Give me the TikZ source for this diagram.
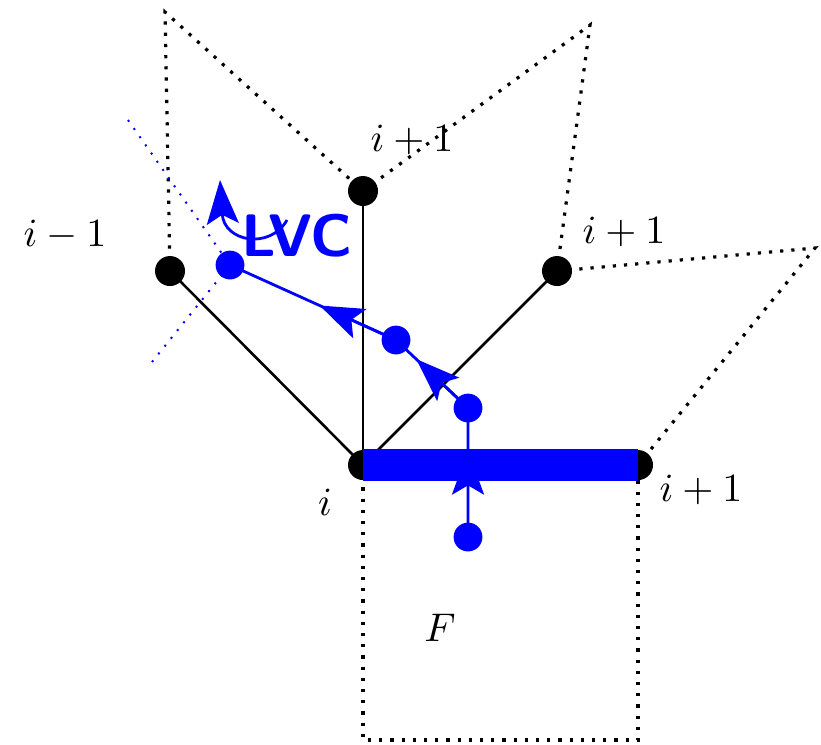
\documentclass[tikz,border=0pt]{standalone}
\usetikzlibrary{arrows.meta}
\begin{document}
\begin{tikzpicture}[x=0.25pt,y=-0.25pt,
  bdot/.style={circle,fill=black,inner sep=0pt,minimum size=7.5pt},
  udot/.style={circle,fill=blue,inner sep=0pt,minimum size=7.2pt},
  edge/.style={line width=0.65pt},
  dots/.style={dotted,line width=0.8pt},
  bluedots/.style={blue,dotted,line width=0.5pt},
  flow/.style={blue,line width=0.7pt},
  flowtip/.style={flow,-{Stealth[length=11pt,width=8pt,inset=2.3pt]}},
  lbl/.style={font=\fontsize{10}{12}\selectfont}
]
\useasboundingbox (0,0) rectangle (821,744);
% positions
\coordinate (vi) at (363,465);
\coordinate (vr) at (638,465);
\coordinate (vt) at (363,191);
\coordinate (vl) at (170,271);
\coordinate (vq) at (557,271);
\coordinate (c1) at (165,12);
\coordinate (c2) at (590,25);
\coordinate (c3) at (815,248);
\coordinate (c4) at (363,740);
\coordinate (c5) at (638,740);
\coordinate (bl1) at (128,120);
\coordinate (bl2) at (152,362);
\coordinate (u1) at (230,265);
\coordinate (u2) at (396,340);
\coordinate (u3) at (468,408);
\coordinate (u4) at (468,537);
\coordinate (ls) at (287,220);
\coordinate (le) at (220,180);
% arrow tip positions on the blue path
\path (u4) -- (u3) coordinate[pos=0.67] (a3);
\path (u3) -- (u2) coordinate[pos=0.72] (a2);
\path (u2) -- (u1) coordinate[pos=0.46] (a1);
% dotted outlines
\draw[dots] (vl) -- (c1) -- (vt);
\draw[dots] (vt) -- (c2) -- (vq);
\draw[dots] (vq) -- (c3) -- (vr);
\draw[dots] (vi) -- (c4) -- (c5) -- (vr);
% edges
\draw[edge] (vi) -- (vl);
\draw[edge] (vi) -- (vt);
\draw[edge] (vi) -- (vq);
% black vertices
\node[bdot] (ni) at (vi) {};
\node[bdot] (nr) at (vr) {};
\node[bdot] (nt) at (vt) {};
\node[bdot] (nl) at (vl) {};
\node[bdot] (nq) at (vq) {};
% thick face edge
\draw[blue,line width=8pt] (ni.center) -- (nr.center);
% blue dotted lines
\draw[bluedots] (bl1) -- (u1);
\draw[bluedots] (bl2) -- (u1);
% blue path
\draw[flow] (u4) -- (u3) -- (u2) -- (u1);
\draw[flowtip] (u4) -- (a3);
\draw[flowtip] (u3) -- (a2);
\draw[flowtip] (u2) -- (a1);
\node[udot] (m1) at (u1) {};
\node[udot] (m2) at (u2) {};
\node[udot] (m3) at (u3) {};
\node[udot] (m4) at (u4) {};
% LVC
\draw[flowtip] (ls) .. controls (270,250) and (224,242) .. (le);
\node[blue,font=\sffamily\bfseries\fontsize{15}{18}\selectfont] (lvc) at (297,236) {LVC};
% labels
\node[lbl] (lt) at (412,140) {$i+1$};
\node[lbl] (ll) at (65,235) {$i-1$};
\node[lbl] (lq) at (624,232) {$i+1$};
\node[lbl] (li) at (325,502) {$i$};
\node[lbl] (lr) at (701,490) {$i+1$};
\node[lbl] (lf) at (440,628) {$F$};
\end{tikzpicture}
\end{document}
